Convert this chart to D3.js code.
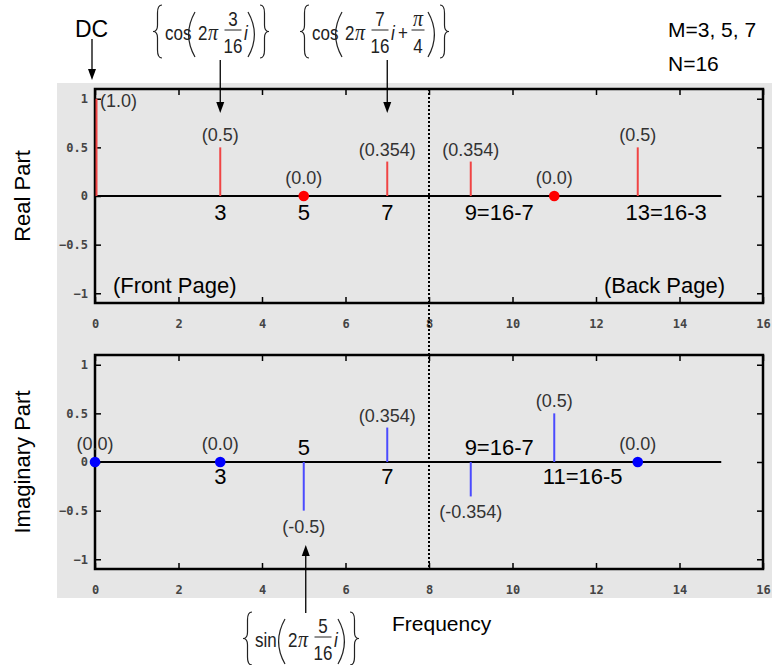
<!DOCTYPE html>
<html><head><meta charset="utf-8">
<script src="https://cdn.jsdelivr.net/npm/d3@7"></script>
<style>body{margin:0;background:#fff}svg{display:block}</style>
</head><body>
<svg id="c" width="772" height="665"></svg>
<script>
// ---------- data ----------
const realFreq   = [0, 3, 5, 7, 9, 11, 13];
const realVals   = [1.0, 0.5, 0.0, 0.354, 0.354, 0.0, 0.5];
const realLabels = ["(1.0)", "(0.5)", "(0.0)", "(0.354)", "(0.354)", "(0.0)", "(0.5)"];
const imagFreq   = [0, 3, 5, 7, 9, 11, 13];
const imagVals   = [0.0, 0.0, -0.5, 0.354, -0.354, 0.5, 0.0];
const imagLabels = ["(0.0)", "(0.0)", "(-0.5)", "(0.354)", "(-0.354)", "(0.5)", "(0.0)"];
const realIdxFreq  = [3, 5, 7, 9, 13];
const realIdxText  = ["3", "5", "7", "9=16-7", "13=16-3"];
const imagIdxFreq  = [3, 5, 7, 9, 11];
const imagIdxText  = ["3", "5", "7", "9=16-7", "11=16-5"];
const xTicks = [0, 2, 4, 6, 8, 10, 12, 14, 16];
const yTicks = [-1, -0.5, 0, 0.5, 1];
const lastFreq = 15;
const halfN = 8;

// ---------- setup ----------
const FONT = "'Liberation Sans', Arial, Helvetica, sans-serif";
const TICKFONT = "'DejaVu Sans Mono', 'Liberation Mono', monospace";
const svg = d3.select("#c").style("font-family", FONT);
svg.append("rect").attr("x", 57).attr("y", 83).attr("width", 715).attr("height", 515).attr("fill", "#e6e6e6");

const x = d3.scaleLinear().domain([0, 16]).range([95, 763]);

const measurer = svg.append("text").attr("font-size", 22).attr("visibility", "hidden");
function textW(s, size) { measurer.attr("font-size", size).text(s); return measurer.node().getComputedTextLength(); }

const panels = [
  { top: 89, bottom: 303, freq: realFreq, vals: realVals, labels: realLabels,
    idxF: realIdxFreq, idxT: realIdxText, stem: "#f04444", dot: "#ff0000", title: "Real Part", belowOff: 24 },
  { top: 355, bottom: 569, freq: imagFreq, vals: imagVals, labels: imagLabels,
    idxF: imagIdxFreq, idxT: imagIdxText, stem: "#4b4bff", dot: "#0000ff", title: "Imaginary Part", belowOff: 22 }
];

panels.forEach(p => {
  const y = d3.scaleLinear().domain([-1.1, 1.1]).range([p.bottom, p.top]);
  const g = svg.append("g");
  const fmt = d3.format("~g");

  const styleAxis = sel => {
    sel.select(".domain").remove();
    sel.selectAll(".tick line").attr("stroke", "#000").attr("stroke-width", 1.5);
    sel.selectAll(".tick text").attr("font-family", TICKFONT).attr("font-size", 12)
       .attr("font-weight", "bold").attr("fill", "#444");
  };
  g.append("g").attr("transform", `translate(${x(0)},0)`)
    .call(d3.axisLeft(y).tickValues(yTicks).tickSize(-6).tickPadding(7).tickFormat(fmt)).call(styleAxis);
  g.append("g").attr("transform", `translate(${x(16)},0)`)
    .call(d3.axisRight(y).tickValues(yTicks).tickSize(-6).tickFormat("")).call(styleAxis);
  g.append("g").attr("transform", `translate(0,${p.bottom})`)
    .call(d3.axisBottom(x).tickValues(xTicks).tickSize(-6).tickPadding(16).tickFormat(fmt)).call(styleAxis);
  g.append("g").attr("transform", `translate(0,${p.top})`)
    .call(d3.axisTop(x).tickValues(xTicks).tickSize(-6).tickFormat("")).call(styleAxis);

  g.append("rect").attr("x", x(0)).attr("y", p.top).attr("width", x(16) - x(0)).attr("height", p.bottom - p.top)
    .attr("fill", "none").attr("stroke", "#000").attr("stroke-width", 2.5);

  g.append("line").attr("x1", x(0)).attr("x2", x(lastFreq)).attr("y1", y(0)).attr("y2", y(0))
    .attr("stroke", "#000").attr("stroke-width", 2.2);

  const pts = p.freq.map((f, i) => ({ f, v: p.vals[i], l: p.labels[i] }));
  g.selectAll(".stem").data(pts.filter(d => d.v !== 0)).join("line")
    .attr("x1", d => x(d.f) + (d.f === 0 ? 1.5 : 0)).attr("x2", d => x(d.f) + (d.f === 0 ? 1.5 : 0))
    .attr("y1", y(0)).attr("y2", d => y(d.v))
    .attr("stroke", p.stem).attr("stroke-width", 2);
  g.selectAll(".dot").data(pts.filter(d => d.v === 0)).join("circle")
    .attr("cx", d => x(d.f)).attr("cy", y(0)).attr("r", 5.3).attr("fill", p.dot);

  g.selectAll(".vlab").data(pts).join("text")
    .attr("font-size", 18).attr("fill", "#333")
    .attr("text-anchor", d => (d.f === 0 && d.v === 1) ? "start" : "middle")
    .attr("x", d => (d.f === 0 && d.v === 1) ? x(d.f) + 5 : x(d.f))
    .attr("y", d => {
      if (d.f === 0 && d.v === 1) return y(d.v) + 8;
      if (d.v > 0) return y(d.v) - 6;
      if (d.v < 0) return y(d.v) + 22;
      return y(0) - 12;
    })
    .text(d => d.l);

  p.idxF.forEach((f, i) => {
    const s = p.idxT[i];
    const v = p.vals[p.freq.indexOf(f)];
    const lead = s.match(/^\d+/)[0];
    const w = textW(lead, 22);
    g.append("text").attr("font-size", 22).attr("fill", "#000")
      .attr("x", x(f) - w / 2)
      .attr("y", v < 0 ? y(0) - 7 : y(0) + p.belowOff)
      .text(s);
  });

  svg.append("text").attr("font-size", 22).attr("fill", "#000").attr("text-anchor", "middle")
    .attr("transform", `translate(30,${(p.top + p.bottom) / 2}) rotate(-90)`).text(p.title);
});

// dotted half-way line
svg.append("line").attr("x1", x(halfN)).attr("x2", x(halfN)).attr("y1", panels[0].top).attr("y2", panels[1].bottom)
  .attr("stroke", "#000").attr("stroke-width", 2).attr("stroke-dasharray", "2,2");

svg.append("text").attr("font-size", 22).attr("x", 113).attr("y", 293).text("(Front Page)");
svg.append("text").attr("font-size", 22).attr("x", 725).attr("y", 293).attr("text-anchor", "end").text("(Back Page)");
svg.append("text").attr("font-size", 21).attr("x", 392).attr("y", 631).text("Frequency");
svg.append("text").attr("font-size", 21).attr("x", 668).attr("y", 37).text("M=3, 5, 7");
svg.append("text").attr("font-size", 21).attr("x", 668).attr("y", 71).text("N=16");
svg.append("text").attr("font-size", 23).attr("x", 75).attr("y", 37).text("DC");

// arrows
function arrow(xa, y1, y2) {
  const dir = y2 > y1 ? 1 : -1;
  svg.append("line").attr("x1", xa).attr("x2", xa).attr("y1", y1).attr("y2", y2 - dir * 9)
    .attr("stroke", "#000").attr("stroke-width", 1.3);
  svg.append("path").attr("d", `M${xa - 4},${y2 - dir * 11} L${xa + 4},${y2 - dir * 11} L${xa},${y2} Z`).attr("fill", "#000");
}
arrow(92, 39, 80);
arrow(x(3), 60, 113);
arrow(x(7), 60, 113);
arrow(x(5) + 2, 613, 545);

// formulas
function brace(g, x0, x1, y0, y1, left) {
  const h = y1 - y0, xm = (x0 + x1) / 2, ym = (y0 + y1) / 2;
  const a = left ? x1 : x0, b = left ? x0 : x1;
  g.append("path").attr("fill", "none").attr("stroke", "#222").attr("stroke-width", 1.2)
    .attr("d", `M${a},${y0} Q${xm},${y0} ${xm},${y0 + h * 0.15} L${xm},${ym - h * 0.12} Q${xm},${ym} ${b},${ym} Q${xm},${ym} ${xm},${ym + h * 0.12} L${xm},${y1 - h * 0.15} Q${xm},${y1} ${a},${y1}`);
}
function paren(g, x0, x1, y0, y1, left) {
  const ym = (y0 + y1) / 2, w = x1 - x0;
  const d = left ? `M${x1},${y0} Q${x0 - w * 0.6},${ym} ${x1},${y1}` : `M${x0},${y0} Q${x1 + w * 0.6},${ym} ${x0},${y1}`;
  g.append("path").attr("fill", "none").attr("stroke", "#222").attr("stroke-width", 1.2).attr("d", d);
}
function t(g, s, xx, yy, anchor, opts) {
  opts = opts || {};
  g.append("text").attr("transform", `translate(${xx},${yy}) scale(1,1.2)`)
    .attr("font-size", opts.size || 17).attr("fill", "#222")
    .attr("font-family", opts.serif ? "'Liberation Serif', 'Times New Roman', serif" : null)
    .attr("text-anchor", anchor || "start").attr("font-style", opts.italic ? "italic" : null).text(s);
}
function frac(g, num, den, cx, halfW, numSerif) {
  t(g, num, cx, 21, "middle", numSerif ? { serif: true, italic: true, size: 20 } : null);
  g.append("line").attr("x1", cx - halfW).attr("x2", cx + halfW).attr("y1", 25).attr("y2", 25).attr("stroke", "#222").attr("stroke-width", 1);
  t(g, den, cx, 48, "middle");
}
function formula(ox, oy, fn, num, den, extra) {
  const g = svg.append("g").attr("transform", `translate(${ox},${oy})`);
  brace(g, 0, 9, 0, 53, true);
  t(g, fn, 12, 35);
  paren(g, 34, 42, 7, 52, true);
  t(g, "2", 45, 35);
  t(g, "π", 55, 35, "start", { serif: true, italic: true, size: 20 });
  frac(g, num, den, 80, 8.5);
  t(g, "i", 91, 35, "start", { italic: true });
  let end = 95;
  if (extra) {
    t(g, "+", 103, 35, "middle");
    frac(g, "π", "4", 118, 6.5, true);
    end = 128;
  }
  paren(g, end, end + 8, 7, 52, false);
  brace(g, end + 12, end + 21, 0, 53, false);
}
formula(153, 5, "cos", "3", "16", false);
formula(300, 5, "cos", "7", "16", true);
formula(243, 612, "sin", "5", "16", false);
</script>
</body></html>
